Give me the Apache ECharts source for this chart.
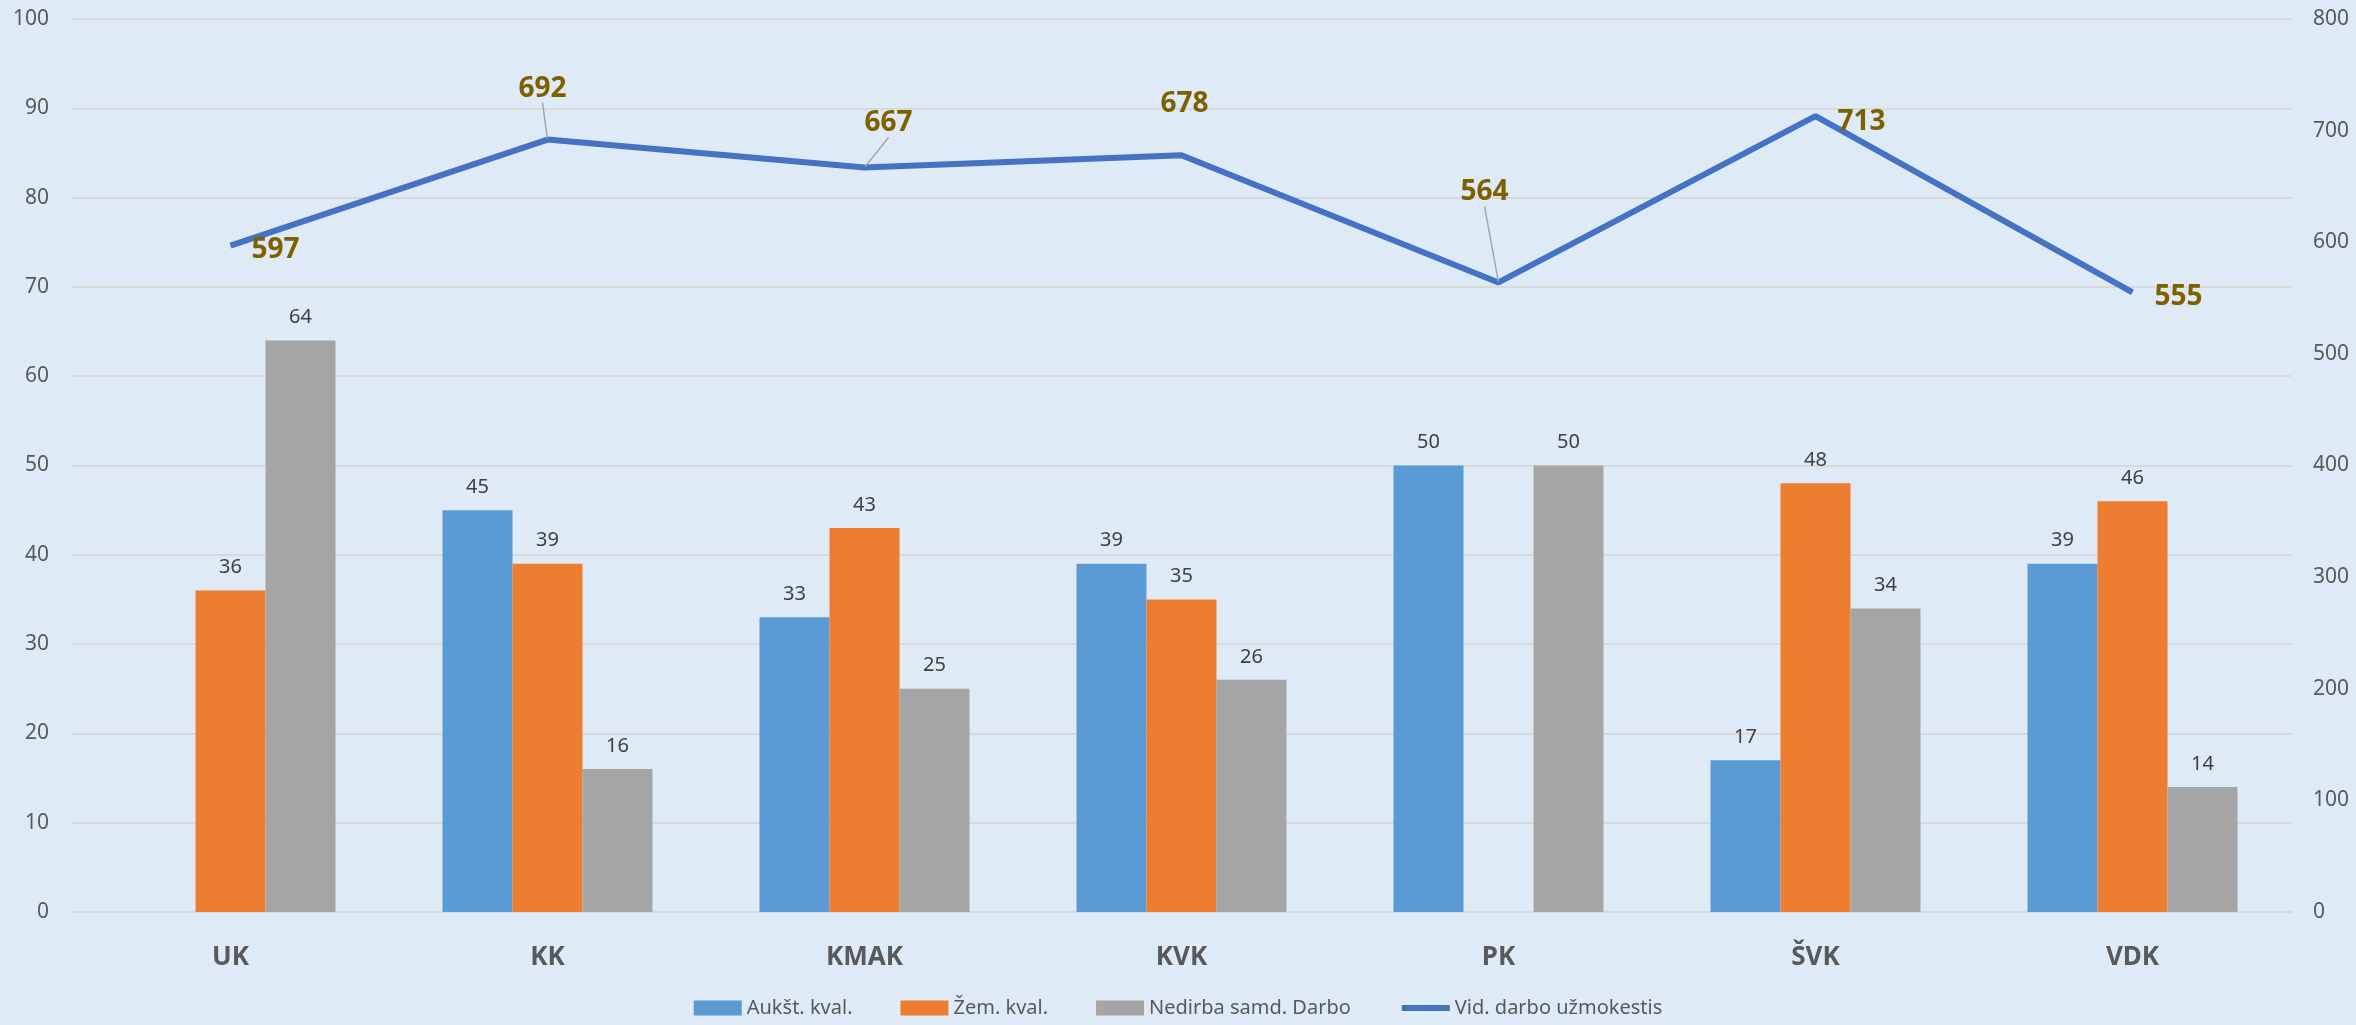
<!DOCTYPE html>
<html>
<head>
<meta charset="utf-8">
<script src="https://cdn.jsdelivr.net/npm/echarts@6/dist/echarts.min.js"></script>
<style>
html,body{margin:0;padding:0;background:#deeaf6;}
#chart{width:2356px;height:1025px;}
</style>
</head>
<body>
<div id="chart"></div>
<script>
const categories = ['UK', 'KK', 'KMAK', 'KVK', 'PK', 'ŠVK', 'VDK'];
const seriesNames = ['Aukšt. kval.', 'Žem. kval.', 'Nedirba samd. Darbo', 'Vid. darbo užmokestis'];
const aukst = [null, 45, 33, 39, 50, 17, 39];
const zem = [36, 39, 43, 35, null, 48, 46];
const nedirba = [64, 16, 25, 26, 50, 34, 14];
const vidDarbo = [597, 692, 667, 678, 564, 713, 555];
const leftTicks = {min: 0, max: 100, interval: 10};
const rightTicks = {min: 0, max: 800, interval: 100};

// label offsets for the line labels (dx, dy) and whether a leader line is drawn
const lineLabelShift = [[45, 4], [-5, -51], [24, -44], [3, -51], [-14, -90], [46, 6], [46, 5]];
const lineLeader = [false, true, true, false, true, false, false];

const chart = echarts.init(document.getElementById('chart'), null, {renderer: 'canvas'});
const font = '"Noto Sans", "Open Sans", sans-serif';

const barLabel = {
  show: true, position: 'top', distance: 13,
  color: '#404040', fontSize: 20, fontFamily: font
};

const option = {
  backgroundColor: '#deeaf6',
  animation: false,
  textStyle: {fontFamily: font},
  grid: {left: 72, right: 65, top: 19, bottom: 113, containLabel: false},
  legend: {
    bottom: 2, left: 'center',
    itemWidth: 48, itemHeight: 15, itemGap: 48,
    textStyle: {fontSize: 20, color: '#595959', fontFamily: font},
    lineStyle: {width: 6},
    data: [
      {name: seriesNames[0], icon: 'rect'},
      {name: seriesNames[1], icon: 'rect'},
      {name: seriesNames[2], icon: 'rect'},
      {name: seriesNames[3]}
    ]
  },
  xAxis: {
    type: 'category', data: categories,
    axisLine: {show: true, lineStyle: {color: '#d9d9d9', width: 2}},
    axisTick: {show: false},
    axisLabel: {fontSize: 26, fontWeight: 'bold', color: '#595959', margin: 33, fontFamily: font}
  },
  yAxis: [
    {
      type: 'value', min: leftTicks.min, max: leftTicks.max, interval: leftTicks.interval,
      axisLine: {show: false}, axisTick: {show: false},
      axisLabel: {fontSize: 21, color: '#595959', margin: 23, fontFamily: font},
      splitLine: {lineStyle: {color: '#d9d9d9', width: 2}}
    },
    {
      type: 'value', min: rightTicks.min, max: rightTicks.max, interval: rightTicks.interval,
      position: 'right',
      axisLine: {show: false}, axisTick: {show: false},
      axisLabel: {fontSize: 21, color: '#595959', margin: 22, fontFamily: font},
      splitLine: {show: false}
    }
  ],
  series: [
    {name: seriesNames[0], type: 'bar', data: aukst, barWidth: 70, barGap: '0%',
     itemStyle: {color: '#5b9bd5'}, label: barLabel},
    {name: seriesNames[1], type: 'bar', data: zem, barWidth: 70, barGap: '0%',
     itemStyle: {color: '#ed7d31'}, label: barLabel},
    {name: seriesNames[2], type: 'bar', data: nedirba, barWidth: 70, barGap: '0%',
     itemStyle: {color: '#a5a5a5'}, label: barLabel},
    {
      name: seriesNames[3], type: 'line', yAxisIndex: 1,
      data: vidDarbo.map((v, i) => ({value: v, labelLine: {show: lineLeader[i]}})),
      symbol: 'circle', symbolSize: 2, showSymbol: true,
      lineStyle: {color: '#4472c4', width: 6},
      itemStyle: {color: 'rgba(0,0,0,0)', borderWidth: 0},
      label: {
        show: true, position: 'inside', color: '#7f6000', fontSize: 28,
        fontWeight: 'bold', fontFamily: font
      },
      labelLine: {show: false, lineStyle: {color: '#a6a6a6', width: 1.5}},
      labelLayout: function (p) {
        const s = lineLabelShift[p.dataIndex];
        return {dx: s[0], dy: s[1]};
      }
    }
  ]
};
chart.setOption(option);
</script>
</body>
</html>
